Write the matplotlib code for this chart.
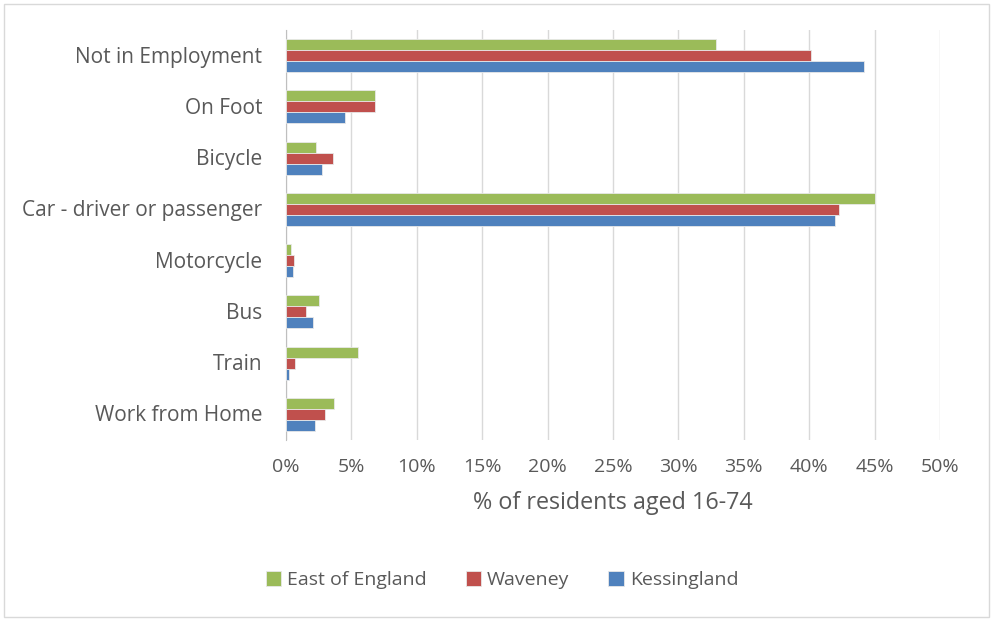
import matplotlib.pyplot as plt
import numpy as np
from matplotlib.patches import Rectangle

categories = ['Not in Employment', 'On Foot', 'Bicycle', 'Car - driver or passenger',
              'Motorcycle', 'Bus', 'Train', 'Work from Home']
east = [32.9, 6.8, 2.3, 45.0, 0.4, 2.5, 5.5, 3.7]
waveney = [40.1, 6.8, 3.6, 42.3, 0.6, 1.5, 0.7, 3.0]
kessingland = [44.2, 4.5, 2.75, 42.0, 0.5, 2.1, 0.2, 2.25]
series = ['East of England', 'Waveney', 'Kessingland']
colors = ['#9BBB59', '#C0504D', '#4F81BD']

plt.rcParams['font.family'] = ['Open Sans', 'DejaVu Sans']
txt = '#595959'

fig = plt.figure(figsize=(9.91, 6.19), dpi=100)
ax = fig.add_axes([286/991, 1-440/619, (940-286)/991, (440-30)/619])

y = np.arange(len(categories))[::-1]
h = 0.215
for i, (vals, lab, c) in enumerate(zip([east, waveney, kessingland], series, colors)):
    ax.barh(y + (1-i)*h, vals, height=h, color=c, edgecolor='#E8E8E8', linewidth=0.6,
            label=lab, zorder=3)

ax.set_xlim(0, 50)
ax.set_ylim(-0.5, len(categories)-0.5)
ax.set_xticks(np.arange(0, 51, 5))
ax.set_xticklabels([f'{v}%' for v in range(0, 51, 5)])
ax.set_yticks(y + 0.02)
ax.set_yticklabels(categories)
ax.tick_params(length=0, labelcolor=txt)
ax.tick_params(axis='x', pad=13, labelsize=14)
ax.tick_params(axis='y', pad=17, labelsize=15)
ax.grid(axis='x', color='#D9D9D9', linewidth=1, zorder=0)
for s in ['top', 'right', 'bottom']:
    ax.spines[s].set_visible(False)
ax.spines['left'].set_color('#BFBFBF')
ax.set_xlabel('% of residents aged 16-74', fontsize=16.8, color=txt, labelpad=11)

handles, labels = ax.get_legend_handles_labels()
fig.legend(handles, labels, loc='center', bbox_to_anchor=(502/991, 1-580/619), ncol=3,
           frameon=False, fontsize=14, labelcolor=txt, handlelength=0.8, handleheight=0.8,
           handletextpad=0.3, columnspacing=2.0)

fig.patches.append(Rectangle((4/991, 2/619), 985/991, 613/619, transform=fig.transFigure,
                             fill=False, edgecolor='#D9D9D9', linewidth=1))

fig.savefig('out.png', dpi=100)
